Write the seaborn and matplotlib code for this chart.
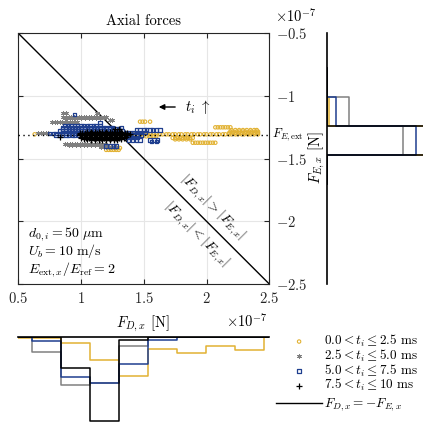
import numpy as np
import pandas as pd
import seaborn as sns
import matplotlib.pyplot as plt

# forces are given in units of 1e-7 N
bin_labels = [r'$0.0 < t_i \leq 2.5\ \mathrm{ms}$',
              r'$2.5 < t_i \leq 5.0\ \mathrm{ms}$',
              r'$5.0 < t_i \leq 7.5\ \mathrm{ms}$',
              r'$7.5 < t_i \leq 10\ \mathrm{ms}$']
line_label = r'$F_{D,x} = -F_{E,x}$'
colors = ['#E2B233', '#808080', '#1F3F8F', '#000000']

# scatter points: (F_E,x, [F_D,x values]) per streak
yellow_rows = [
    (-1.306, [0.63, 1.40, 1.43, 1.45, 1.48, 1.50, 1.53, 1.55, 1.58, 1.60, 1.63, 1.65, 1.68,
              1.70, 1.73, 1.75, 1.78, 1.80, 1.83, 1.85, 1.88, 1.90, 1.93, 1.95, 1.98, 2.00,
              2.03, 2.05, 2.08, 2.10, 2.13, 2.15, 2.18, 2.20, 2.23, 2.25, 2.28, 2.30, 2.33,
              2.35, 2.38, 2.41]),
    (-1.295, [2.18, 2.21, 2.23, 2.26, 2.28, 2.31, 2.33, 2.36, 2.38, 2.41]),
    (-1.284, [2.19, 2.21, 2.24, 2.26, 2.29, 2.31, 2.34, 2.36, 2.39, 2.41]),
    (-1.272, [2.20, 2.23, 2.26, 2.29, 2.32, 2.35, 2.38, 2.40]),
    (-1.250, [2.07, 2.09, 2.11, 2.13, 2.15, 2.17, 2.19]),
    (-1.205, [1.47, 1.49, 1.51, 1.55]),
    (-1.322, [1.49, 1.52, 1.55, 1.58, 1.60]),
    (-1.335, [1.73, 1.75, 1.77, 1.79, 1.81, 1.83, 1.85, 1.87, 1.89]),
    (-1.346, [1.75, 1.78, 1.81, 1.84, 1.87]),
    (-1.373, [1.89, 1.91, 1.93, 1.95, 1.97, 1.99, 2.01, 2.03, 2.05, 2.07]),
    (-1.415, [1.23, 1.25, 1.27, 1.29, 1.31]),
    (-1.430, [1.20, 1.22, 1.24, 1.26, 1.28, 1.30]),
]
gray_rows = [
    (-1.133, [0.86, 0.88, 1.13]),
    (-1.165, [0.86, 0.88, 0.90, 0.92, 0.94, 0.96, 0.98, 1.00, 1.02, 1.04, 1.06, 1.08,
              1.10, 1.12, 1.14, 1.16, 1.18, 1.20]),
    (-1.178, [0.88, 0.91, 0.94, 0.97, 1.00, 1.03, 1.06, 1.09, 1.12, 1.15]),
    (-1.190, [1.23, 1.25]),
    (-1.205, [0.77, 0.79, 0.81, 0.83, 0.85, 0.87, 0.89, 0.91, 0.93, 0.95, 0.97]),
    (-1.298, [0.66, 0.68, 0.70, 0.72, 0.74, 1.33, 1.35, 1.37, 1.39, 1.41, 1.43, 1.45,
              1.47, 1.49]),
    (-1.380, [0.87, 0.89, 0.91, 0.93, 0.95, 0.97, 0.99, 1.01, 1.03, 1.05, 1.07, 1.09,
              1.11, 1.13, 1.15, 1.17, 1.19]),
    (-1.392, [0.90, 0.93, 0.96, 0.99, 1.02, 1.05, 1.08, 1.11, 1.14, 1.17]),
    (-1.410, [1.16, 1.18, 1.20, 1.22, 1.24, 1.26, 1.28]),
]
blue_rows = [
    (-1.150, [0.95]),
    (-1.213, [1.15]),
    (-1.235, [0.87, 0.90, 0.92, 0.95, 0.97, 1.00, 1.02, 1.05, 1.07, 1.10, 1.12, 1.15]),
    (-1.250, [0.85, 0.88, 0.90, 0.93, 0.95, 0.98, 1.00, 1.03, 1.05, 1.08, 1.10, 1.13,
              1.15, 1.18, 1.20, 1.23, 1.25, 1.32]),
    (-1.265, [0.85, 0.88, 0.90, 0.93, 0.95, 0.98, 1.00, 1.03, 1.05, 1.08, 1.10, 1.13,
              1.15, 1.18, 1.20, 1.23, 1.25, 1.28, 1.30]),
    (-1.270, [1.44, 1.47, 1.50, 1.52, 1.55, 1.57, 1.60, 1.63]),
    (-1.280, [0.83, 0.85, 0.88, 0.90, 0.93, 0.95, 0.98, 1.00, 1.03, 1.05, 1.08, 1.10,
              1.13, 1.15, 1.18, 1.20, 1.23, 1.25, 1.28, 1.30, 1.33]),
    (-1.290, [1.36, 1.39, 1.42, 1.45, 1.48, 1.51]),
    (-1.298, [0.75, 0.78, 0.80, 0.83, 0.85, 0.88, 0.90, 0.93, 0.95, 0.98, 1.00, 1.03,
              1.35]),
    (-1.310, [0.80, 0.83, 0.85, 0.88, 0.90, 0.93, 0.95, 0.98, 1.36, 1.39, 1.42, 1.45,
              1.48]),
    (-1.330, [1.36, 1.39, 1.42, 1.45]),
    (-1.350, [1.38, 1.41, 1.44, 1.47, 1.55, 1.58, 1.61]),
    (-1.365, [1.56, 1.60]),
    (-1.400, [1.20, 1.23, 1.26, 1.28]),
]
black_rows = [
    (-1.265, [1.27, 1.30]),
    (-1.285, [1.05, 1.08, 1.11, 1.14, 1.17, 1.20, 1.23, 1.26, 1.29, 1.32]),
    (-1.295, [0.99, 1.01, 1.03, 1.05, 1.07, 1.09, 1.11, 1.13, 1.15, 1.17, 1.19, 1.21,
              1.23, 1.25, 1.27, 1.29, 1.31, 1.33, 1.35, 1.37]),
    (-1.305, [0.99, 1.01, 1.03, 1.05, 1.07, 1.09, 1.11, 1.13, 1.15, 1.17, 1.19, 1.21,
              1.23, 1.25, 1.27, 1.29, 1.31, 1.33, 1.35, 1.37, 1.39]),
    (-1.315, [0.99, 1.01, 1.03, 1.05, 1.07, 1.09, 1.11, 1.13, 1.15, 1.17, 1.19, 1.21,
              1.23, 1.25, 1.27, 1.29, 1.31, 1.33, 1.35, 1.37]),
    (-1.325, [0.83, 1.00, 1.02, 1.04, 1.06, 1.08, 1.10, 1.12, 1.14, 1.16, 1.18, 1.20,
              1.22, 1.24, 1.26, 1.28, 1.30, 1.32, 1.34, 1.36]),
    (-1.335, [1.00, 1.02, 1.04, 1.06, 1.08, 1.10, 1.12, 1.14, 1.16, 1.18, 1.20, 1.22,
              1.24, 1.26, 1.28, 1.30, 1.32, 1.34]),
    (-1.345, [1.02, 1.05, 1.08, 1.11, 1.14, 1.17, 1.20, 1.23, 1.26, 1.29, 1.32]),
    (-1.355, [1.08, 1.11, 1.14, 1.17, 1.20, 1.23, 1.26, 1.29]),
]

F_E_ext = -1.31
diag_x = [0.5, 2.5]
diag_y = [-0.5, -2.5]

x_ticks = [0.5, 1, 1.5, 2, 2.5]
x_tick_labels = ['$0.5$', '$1$', '$1.5$', '$2$', '$2.5$']
y_ticks = [-0.5, -1, -1.5, -2, -2.5]
y_tick_labels = ['$-0.5$', '$-1$', '$-1.5$', '$-2$', '$-2.5$']

# marginal histograms (probability per bin)
fd_edges = [0.381, 0.612, 0.843, 1.074, 1.305, 1.535, 1.766, 1.997, 2.228, 2.458, 2.689]
fd_yellow = [0.008, 0.008, 0.049, 0.196, 0.332, 0.102, 0.136, 0.071, 0.108, 0]
fd_gray = [0, 0.122, 0.409, 0.389, 0.077, 0, 0, 0, 0, 0]
fd_blue = [0, 0.028, 0.334, 0.389, 0.224, 0.026, 0, 0, 0, 0]
fd_black = [0, 0, 0.264, 0.715, 0.020, 0, 0, 0, 0, 0]

fe_edges = [-1.704, -1.473, -1.242, -1.011, -0.780]
fe_yellow = [0, 0.983, 0.017, 0]
fe_gray = [0, 0.775, 0.225, 0]
fe_blue = [0, 0.91, 0.09, 0]
fe_black = [0, 1.0, 0.0, 0]


def rows_to_frame(rows):
    xs, ys = [], []
    for y, xlist in rows:
        xs += xlist
        ys += [y] * len(xlist)
    return pd.DataFrame({'F_D': xs, 'F_E': ys})


plt.rcParams['font.family'] = 'serif'
plt.rcParams['font.serif'] = ['cmr10']
plt.rcParams['mathtext.fontset'] = 'cm'
plt.rcParams['axes.unicode_minus'] = False

W, H = 423, 422
fig = plt.figure(figsize=(W / 100, H / 100), dpi=100)


def box(l, t, r, b):
    return [l / W, 1 - b / H, (r - l) / W, (b - t) / H]


def px(x, y):
    return x / W, 1 - y / H


ax = fig.add_axes(box(18.3, 33.3, 269.3, 284))
axr = fig.add_axes(box(327.3, 33.3, 425.3, 284))
axb = fig.add_axes(box(18.3, 337.3, 269.3, 454.8))

# main scatter
ax.grid(True, color='#e6e6e6', lw=0.8)
ax.set_axisbelow(True)
handles = []
styles = [
    (yellow_rows, dict(marker='o', s=6, facecolor='none', edgecolor=colors[0], linewidth=0.8)),
    (gray_rows, dict(marker=(6, 2, 0), s=8, color=colors[1], linewidth=0.7)),
    (blue_rows, dict(marker='s', s=6, facecolor='none', edgecolor=colors[2], linewidth=0.9)),
    (black_rows, dict(marker='+', s=14, color=colors[3], linewidth=0.9)),
]
for (rows, kw), lab in zip(styles, bin_labels):
    df = rows_to_frame(rows)
    sns.scatterplot(data=df, x='F_D', y='F_E', ax=ax, label=lab, legend=False, zorder=3, **kw)
    handles.append(ax.collections[-1])

sns.lineplot(x=diag_x, y=diag_y, color='k', lw=1, ax=ax, legend=False, label=line_label)
line_handle = ax.lines[-1]
ax.axhline(F_E_ext, color='k', ls=(0, (1, 2.5)), lw=1, zorder=4)

ax.set_xlim(0.5, 2.5)
ax.set_ylim(-2.5, -0.5)
ax.set_xlabel('')
ax.set_ylabel('')
ax.set_xticks(x_ticks)
ax.set_xticklabels(x_tick_labels)
ax.yaxis.tick_right()
ax.set_yticks(y_ticks)
ax.set_yticklabels(y_tick_labels)
ax.tick_params(direction='in', length=3.5, width=0.8, labelsize=10.5, colors='#262626',
               top=True, bottom=True, left=True, right=True,
               labelleft=False, labelright=True, pad=5)
for s in ax.spines.values():
    s.set_color('#262626')
    s.set_linewidth(0.8)
ax.set_title('Axial forces', fontsize=10.5, pad=6)

ax.annotate('', xy=(1.597, -1.088), xytext=(1.772, -1.088),
            arrowprops=dict(arrowstyle='-|>', color='k', lw=1, mutation_scale=8))
ax.text(1.828, -1.088, r'$t_i\ \uparrow$', fontsize=10.5, va='center', ha='left')
ax.text(2.05, -1.89, r'$|F_{D,x}| > |F_{E,x}|$', rotation=-45, fontsize=10,
        ha='center', va='center')
ax.text(1.92, -2.10, r'$|F_{D,x}| < |F_{E,x}|$', rotation=-45, fontsize=10,
        ha='center', va='center')
ax.text(2.52, F_E_ext, r'$F_{E,\mathrm{ext}}$', fontsize=9, ha='left', va='center',
        clip_on=False)

fig.text(*px(28, 237), r'$d_{0,i} = 50\ \mu\mathrm{m}$', fontsize=10, va='baseline')
fig.text(*px(28, 255), r'$U_b = 10\ \mathrm{m/s}$', fontsize=10, va='baseline')
fig.text(*px(28, 273), r'$E_{\mathrm{ext},x}/E_{\mathrm{ref}} = 2$', fontsize=10, va='baseline')

fig.text(*px(296, 22), r'$\times10^{-7}$', fontsize=10.5, ha='center', va='baseline')
fig.text(*px(247, 327), r'$\times10^{-7}$', fontsize=10.5, ha='center', va='baseline')
fig.text(*px(143, 327), r'$F_{D,x}$ [N]', fontsize=10.5, ha='center', va='baseline')
fig.text(*px(317, 158), r'$F_{E,x}$ [N]', fontsize=10.5, ha='center', va='center',
         rotation=90)

# bottom marginal histogram of F_D,x
fd_centers = [(a + b) / 2 for a, b in zip(fd_edges[:-1], fd_edges[1:])]
for vals, c in zip([fd_yellow, fd_gray, fd_blue, fd_black], colors):
    sns.histplot(x=fd_centers, weights=vals, bins=fd_edges, element='step', fill=False,
                 color=c, lw=1.1, ax=axb)
axb.set_xlim(0.5, 2.5)
axb.set_ylim(1, 0)
axb.set_xticks([])
axb.set_yticks([])
axb.set_xlabel('')
axb.set_ylabel('')
for s in ['left', 'right', 'bottom']:
    axb.spines[s].set_visible(False)
axb.spines['top'].set_color('k')
axb.spines['top'].set_linewidth(1.2)
axb.patch.set_alpha(0)

# right marginal histogram of F_E,x
fe_centers = [(a + b) / 2 for a, b in zip(fe_edges[:-1], fe_edges[1:])]
for vals, c in zip([fe_yellow, fe_gray, fe_blue, fe_black], colors):
    sns.histplot(y=fe_centers, weights=vals, bins=fe_edges, element='step', fill=False,
                 color=c, lw=1.1, ax=axr)
axr.set_xlim(0, 1)
axr.set_ylim(-2.5, -0.5)
axr.set_xticks([])
axr.set_yticks([])
axr.set_xlabel('')
axr.set_ylabel('')
for s in ['top', 'right', 'bottom']:
    axr.spines[s].set_visible(False)
axr.spines['left'].set_color('k')
axr.spines['left'].set_linewidth(1.2)
axr.patch.set_alpha(0)

leg_kw = dict(frameon=False, fontsize=9.5, handlelength=3.5, handletextpad=0.15,
              borderpad=0, borderaxespad=0)
fig.legend(handles, bin_labels, loc='upper left', bbox_to_anchor=px(276, 333),
           labelspacing=-0.12, **leg_kw)
fig.legend([line_handle], [line_label], loc='center left', bbox_to_anchor=px(276, 405),
           **leg_kw)

fig.savefig('out.png', dpi=100)
